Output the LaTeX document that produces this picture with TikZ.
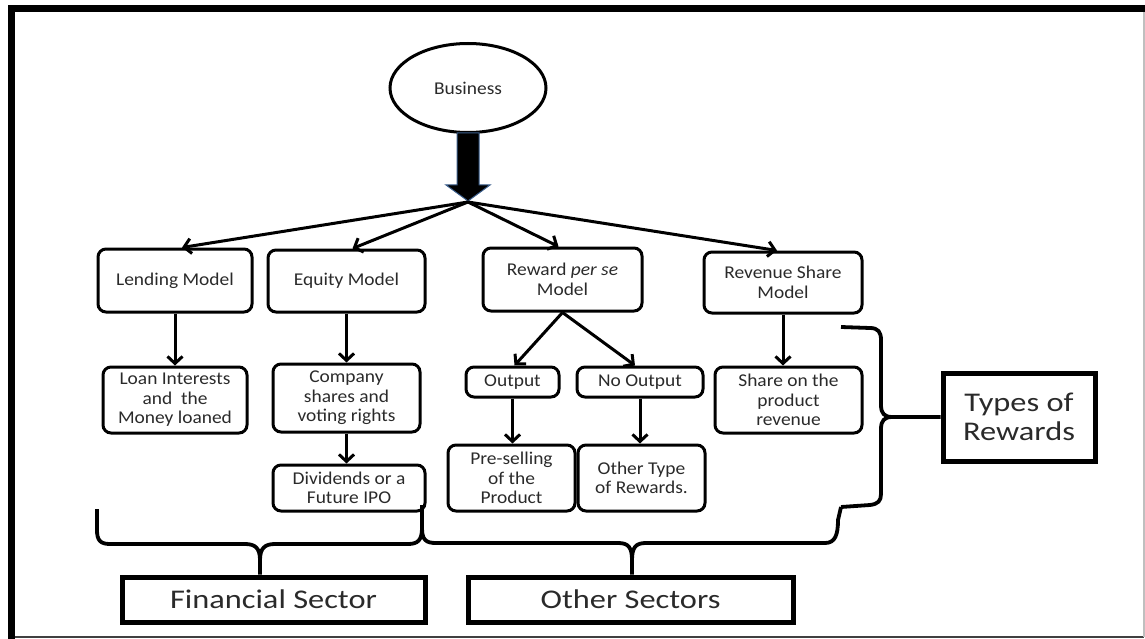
\documentclass[tikz,border=0pt]{standalone}
\usepackage{fontspec}
\setmainfont{Carlito}[FakeStretch=1.08]
\newfontfamily\bigfont{Carlito}[FakeStretch=1.2]
\usetikzlibrary{arrows.meta,shapes.geometric,calc}
\definecolor{txt}{HTML}{2A2A2A}
\definecolor{arrowedge}{HTML}{3B5E8C}
\tikzset{
  box/.style={draw, rounded corners=8pt, line width=3pt, align=center, inner sep=0pt,
    text=txt, font=\fontsize{18}{19.5}\selectfont},
  bigbox/.style={draw, line width=5pt, align=center, inner sep=0pt,
    text=txt, font=\bigfont\fontsize{27}{28.5}\selectfont},
  arr/.style={line width=3pt, -{Straight Barb[length=7pt,width=15pt,line width=3pt]}},
  brace/.style={line width=3.8pt, line join=round},
}
\begin{document}
\begin{tikzpicture}[x=1pt,y=-1pt]
\useasboundingbox (0,0) rectangle (1145,639);
% page frame
\draw[line width=1.5pt, black!75] (11,637) -- (1144,637);
\draw[line width=1.5pt, black!25] (1144,637) -- (1144,9);
\draw[line width=7pt] (11,639) -- (11,9) -- (1145,9);

% root
\node[draw, ellipse, line width=3pt, minimum width=156pt, minimum height=89pt,
      inner sep=0pt, text=txt, font=\fontsize{18}{19.5}\selectfont] (biz) at (468,88) {Business};

% block arrow below the root
\draw[fill=black, draw=arrowedge, line width=1pt]
  (457,133) -- (479,133) -- (479,185) -- (490,185) -- (468,201) -- (446,185) -- (457,185) -- cycle;
\coordinate (hub) at (468,202);

% model boxes
\node[box, minimum width=154pt, minimum height=63pt] (lend) at (175,280.5) {Lending Model};
\node[box, minimum width=157pt, minimum height=62pt] (equity) at (346.5,281) {Equity Model};
\node[box, minimum width=159pt, minimum height=63pt] (reward) at (562.5,279.5) {Reward \emph{per se}\\Model};
\node[box, minimum width=158pt, minimum height=61pt] (revenue) at (783,282.5) {Revenue Share\\Model};

% reward boxes
\node[box, minimum width=144pt, minimum height=66pt] (loan) at (175,400) {Loan Interests\\and\ \ the\\Money loaned};
\node[box, minimum width=147pt, minimum height=68pt] (company) at (346.5,398) {Company\\shares and\\voting rights};
\node[box, minimum width=152pt, minimum height=46pt] (divid) at (349,488) {Dividends or a\\Future IPO};
\node[box, minimum width=93pt, minimum height=30pt] (output) at (512.5,382) {Output};
\node[box, minimum width=126pt, minimum height=30pt] (nooutput) at (640,382) {No Output};
\node[box, minimum width=127pt, minimum height=66pt] (presell) at (511.5,478) {Pre-selling\\of the\\Product};
\node[box, minimum width=127pt, minimum height=66pt] (othertype) at (641.5,478) {Other Type\\of Rewards.};
\node[box, minimum width=147pt, minimum height=66pt] (share) at (788.5,400) {Share on the\\product\\revenue};

% category labels
\node[bigbox, minimum width=152pt, minimum height=88pt] (types) at (1019,417) {Types of\\Rewards};
\node[bigbox, minimum width=303pt, minimum height=45pt] (fin) at (273.5,599.5) {Financial Sector};
\node[bigbox, minimum width=325pt, minimum height=45pt] (oth) at (630.5,599.5) {Other Sectors};

% fan-out from the root
\draw[arr] (hub) -- ([xshift=7pt]lend.north);
\draw[arr] (hub) -- ([xshift=6pt]equity.north);
\draw[arr] (hub) -- ([xshift=-4pt]reward.north);
\draw[arr] (hub) -- ([xshift=-6pt]revenue.north);

% vertical links
\draw[arr] (lend.south) -- (loan.north);
\draw[arr] (equity.south) -- (company.north);
\draw[arr] (company.south) -- (company.south |- divid.north);
\draw[arr] (reward.south) -- ([xshift=2pt]output.north);
\draw[arr] (reward.south) -- ([xshift=-5pt]nooutput.north);
\draw[arr] (output.south) -- (output.south |- presell.north);
\draw[arr] (nooutput.south) -- (nooutput.south |- othertype.north);
\draw[arr] (revenue.south) -- (revenue.south |- share.north);

% brace grouping the rewards
\draw[brace] (841,327) -- (870,328) .. controls (878,328) and (881,332) .. (881,340) -- (881,405)
  .. controls (881,413) and (884,417) .. (892,417) -- (types.west);
\draw[brace] (892,417) .. controls (884,417) and (881,421) .. (881,429) -- (881,494)
  .. controls (881,501) and (878,504) .. (870,505) -- (841,507);

% brace over the financial sector
\draw[brace] (97,509) -- (97,530) .. controls (97,540) and (100,544) .. (110,544) -- (245,544)
  .. controls (255,544) and (260,548) .. (260,560) -- (fin.north -| 260,0);
\draw[brace] (260,560) .. controls (260,548) and (265,544) .. (275,544) -- (408,544)
  .. controls (418,544) and (422,540) .. (422,528) -- (422,505);

% brace over the other sectors
\draw[brace] (422,528) .. controls (422,540) and (426,543) .. (436,543) -- (618,543)
  .. controls (628,543) and (632,547) .. (632,560) -- (oth.north -| 632,0);
\draw[brace] (632,560) .. controls (632,547) and (636,543) .. (646,543) -- (825,543)
  .. controls (835,543) and (838,535) .. (838,520) -- (841,507);
\end{tikzpicture}
\end{document}
